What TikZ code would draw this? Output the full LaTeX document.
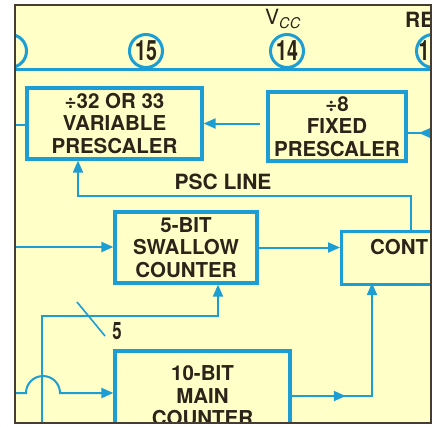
\documentclass[tikz,border=0pt]{standalone}
\usepackage{fontspec}
\setmainfont{TeX Gyre Heros}
\usetikzlibrary{arrows.meta, positioning, decorations.markings}

\definecolor{chipblue}{RGB}{28,158,212}
\definecolor{chipbg}{RGB}{255,255,200}
\definecolor{chipink}{RGB}{45,35,25}
\definecolor{chipframe}{RGB}{70,60,50}

\newcommand{\pinnum}[1]{\scalebox{0.7}[1]{#1}}

\tikzset{
    block/.style={draw=chipblue, line width=3.2pt, align=center, inner sep=0pt,
        font=\bfseries\fontsize{20.5}{22.5}\selectfont, text=chipink},
    wire/.style={draw=chipblue, line width=2pt},
    tip/.style={-{Triangle[length=12pt,width=10pt]}},
    midtip/.style={postaction={decorate}, decoration={markings,
        mark=at position #1 with {\arrow{Triangle[length=12pt,width=10pt]}}}},
    pin/.style={circle, draw=chipblue, line width=3pt, minimum size=33pt, inner sep=0pt,
        font=\bfseries\fontsize{28}{28}\selectfont, text=chipink},
    lbl/.style={font=\bfseries\fontsize{21}{22}\selectfont, text=chipink, inner sep=0pt},
}

\begin{document}
\begin{tikzpicture}[x=1pt, y=-1pt]
    \useasboundingbox (0,0) rectangle (443,426);
    \fill[white] (0,0) rectangle (443,426);
    \fill[chipbg] (15,5) rectangle (431,423);
    \begin{scope}
    \clip (15,5) rectangle (431,423);
    % Pins
    \draw[wire, line width=3pt] (0,69) -- (443,69);
    \foreach \name/\x/\num in {pinA/10/{}, pinB/146/15, pinC/287/14, pinD/433/{}} {
        \node[pin] (\name) at (\x,51) {\pinnum{\num}};
    }
    \node[pin, draw=none, minimum size=0pt] (pinDnum) at (424,51) {\pinnum{1}};
    \node[font=\fontsize{21}{21}\selectfont, text=chipink, inner sep=0pt] (vcc) at (283,19) {V\textsubscript{\textit{CC}}};
    \node[lbl, anchor=west] (reset) at (405,20) {RE};
    % Blocks
    \node[block, minimum width=175, minimum height=71] (varpre) at (114.5,123.5)
        {÷32 OR 33\\VARIABLE\\PRESCALER};
    \node[block, minimum width=138, minimum height=69] (fixpre) at (337,126.5)
        {÷8\\FIXED\\PRESCALER};
    \node[block, minimum width=142, minimum height=71] (swallow) at (186,247.5)
        {5-BIT\\SWALLOW\\COUNTER};
    \node[block, minimum width=140, minimum height=53, anchor=north west] (control) at (340,230) {};
    \node[lbl, anchor=west, font=\bfseries\fontsize{20.5}{22.5}\selectfont] (conttxt) at (370,247) {CONT};
    \node[block, minimum width=175, minimum height=90] (main) at (202.5,396)
        {10-BIT\\MAIN\\COUNTER};
    % Inputs from the left
    \coordinate (inA) at (10,125);
    \coordinate (inB) at (10,247);
    \coordinate (inC) at (10,393);
    \draw[wire] (inA) -- (varpre.west |- inA);
    \draw[wire, tip] (inB) -- (swallow.west |- inB);
    \draw[wire, tip] (inC) -- ++(16,0) arc[start angle=180, end angle=360, radius=17]
        -- (main.west |- inC);
    % Prescaler chain
    \coordinate (inF) at (445,133);
    \draw[wire, midtip=0.7] (inF) -- (fixpre.east |- inF);
    \draw[wire, tip, shorten <=6pt] (fixpre.west |- varpre.east) -- (varpre.east);
    % PSC line
    \coordinate (pscx) at (411,196);
    \coordinate (pscin) at (78,196);
    \draw[wire, tip] (pscx |- control.north) -- (pscx) -- (pscin) -- (pscin |- varpre.south);
    \node[lbl] (psc) at (223,182) {PSC LINE};
    % Counters to control
    \draw[wire, tip] (swallow.east) -- (control.west |- swallow.east);
    \coordinate (ctlin) at (372,283);
    \draw[wire, tip, midtip=0.28] (main.east) -| (ctlin);
    % 5-bit bus
    \coordinate (busfoot) at (42,432);
    \coordinate (busturn) at (218,316);
    \draw[wire, tip] (busfoot) |- (busturn) -- (busturn |- swallow.south);
    \draw[wire, line width=1.6pt] (77,302) -- (105,336);
    \node[lbl, font=\bfseries\fontsize{24}{24}\selectfont] (buswidth) at (117,331) {\pinnum{5}};
    \end{scope}
    \draw[chipframe, line width=1.5pt] (15,5) rectangle (431,423);
\end{tikzpicture}
\end{document}
